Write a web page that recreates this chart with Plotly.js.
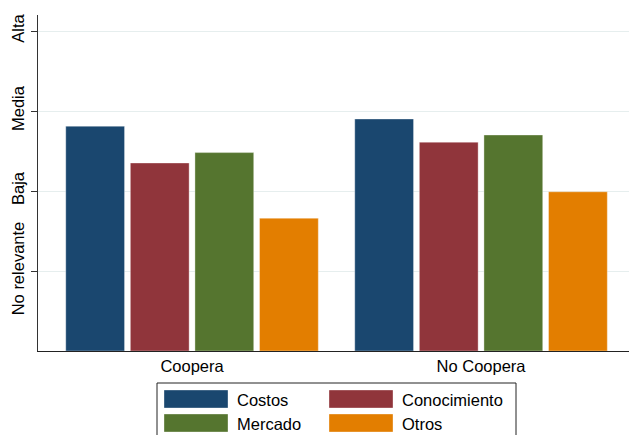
<!DOCTYPE html>
<html>
<head>
<meta charset="utf-8">
<script src="https://cdn.plot.ly/plotly-3.0.1.min.js"></script>
<style>html,body{margin:0;padding:0;background:#fff;}#chart{width:629px;height:435px;}</style>
</head>
<body>
<div id="chart"></div>
<script>
const categories = ["Coopera", "No Coopera"];
const seriesNames = ["Costos", "Conocimiento", "Mercado", "Otros"];
const costos = [2.81, 2.90];
const conocimiento = [2.35, 2.61];
const mercado = [2.48, 2.70];
const otros = [1.66, 1.99];
const yTickVals = [1, 2, 3, 4];
const yTickLabels = ["No relevante", "Baja", "Media", "Alta"];
const colors = ["#1a476f", "#90353b", "#55752f", "#e37e00"];

const values = [costos, conocimiento, mercado, otros];
const traces = seriesNames.map((n, i) => ({
  type: "bar", name: n, x: categories, y: values[i],
  marker: {color: colors[i], line: {color: "rgba(255,255,255,0.35)", width: 1}},
  showlegend: false, hoverinfo: "skip"
}));

// plot area in pixels
const L = 38, T = 15, W = 591, H = 336;
const px = x => (x - L) / W;
const py = y => (T + H - y) / H;

const shapes = [];
const annotations = [];
// legend box
shapes.push({type: "rect", xref: "paper", yref: "paper", x0: px(157), x1: px(516), y0: py(445), y1: py(383),
  line: {color: "#222", width: 1}, fillcolor: "#fff", layer: "above"});
const legPos = [[164, 390], [329, 390], [164, 414], [329, 414]];
seriesNames.forEach((n, i) => {
  const [x, y] = legPos[i];
  shapes.push({type: "rect", xref: "paper", yref: "paper", x0: px(x), x1: px(x + 64), y0: py(y + 18), y1: py(y),
    line: {color: "rgba(255,255,255,0.35)", width: 1}, fillcolor: colors[i], layer: "above"});
  annotations.push({xref: "paper", yref: "paper", x: px(x + 71), y: py(y + 9.5), xanchor: "left", yanchor: "middle",
    text: n, showarrow: false, font: {size: 16.5, color: "#000"}});
});

const layout = {
  width: 629, height: 435,
  margin: {l: L, r: 0, t: T, b: 435 - T - H},
  paper_bgcolor: "#fff", plot_bgcolor: "#fff",
  font: {family: "Liberation Sans, Arial, sans-serif", size: 16.5, color: "#000"},
  barmode: "group", bargap: 0.106, bargroupgap: 0.09,
  xaxis: {range: [-0.533, 1.512], showline: true, linecolor: "#222", linewidth: 1,
    ticks: "", showgrid: false, zeroline: false, tickfont: {size: 16.5}},
  yaxis: {range: [0, 4.2], tickvals: yTickVals, ticktext: yTickLabels, tickangle: -90,
    ticks: "outside", ticklen: 6, tickcolor: "#333", showline: true, linecolor: "#333", linewidth: 1,
    showgrid: true, gridcolor: "#e6eeee", gridwidth: 1, zeroline: false, tickfont: {size: 16.5}},
  shapes: shapes, annotations: annotations
};
Plotly.newPlot("chart", traces, layout, {displayModeBar: false, staticPlot: true});
</script>
</body>
</html>
